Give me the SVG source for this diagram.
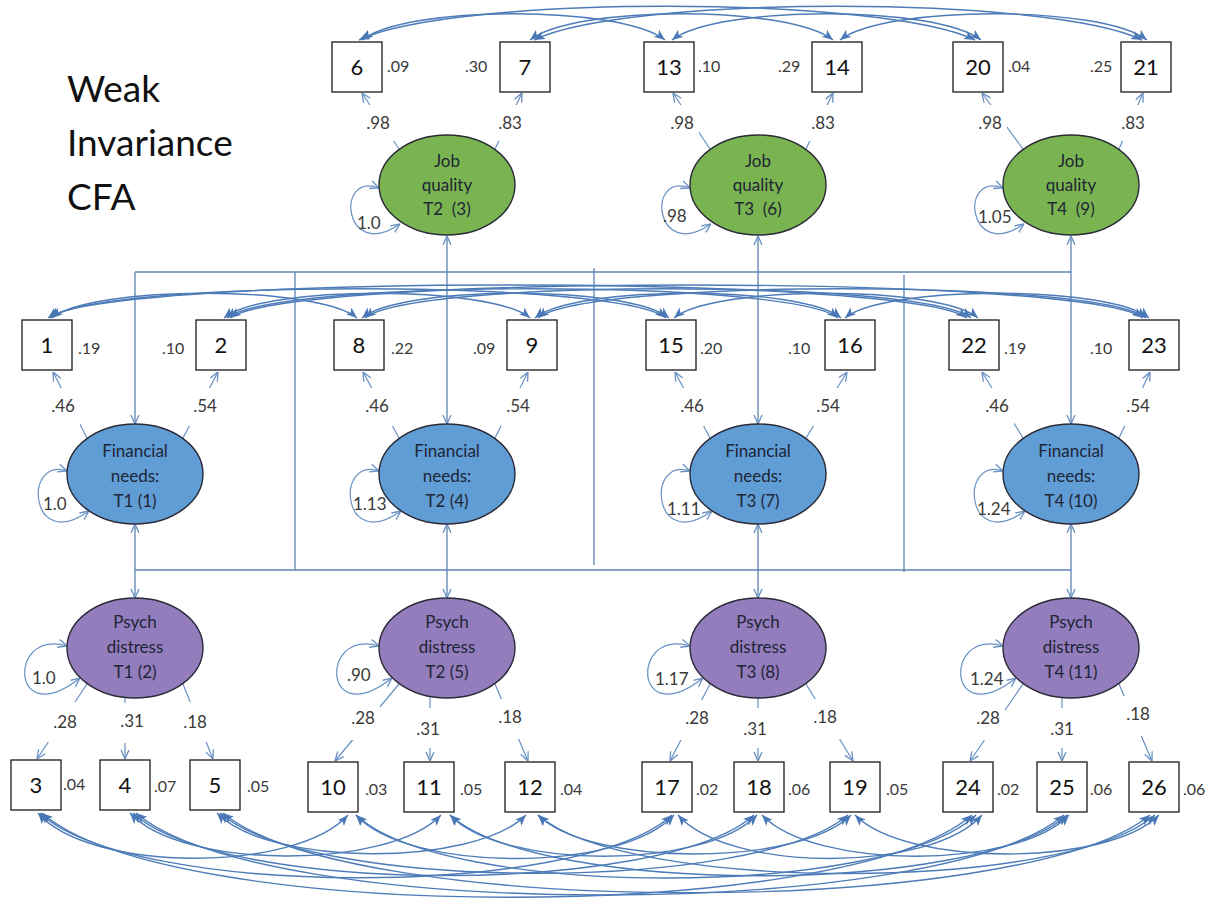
<svg xmlns="http://www.w3.org/2000/svg" width="1217" height="905" viewBox="0 0 1217 905">
<style>
  text { font-family: Lato, "Open Sans", "Liberation Sans", sans-serif; }
  .box { fill: #ffffff; stroke: #1a1a1a; stroke-width: 1.3; }
  .num { font-size: 22px; fill: #111111; text-anchor: middle; }
  .res { font-size: 16px; fill: #3a3a3a; }
  .lbl { font-size: 17px; fill: #3a3a3a; text-anchor: middle; }
  .var { font-size: 17px; fill: #3a3a3a; }
  .lat { stroke: #2a2a38; stroke-width: 1.4; }
  .job { fill: #7ab450; }
  .fin { fill: #609dd5; }
  .psy { fill: #937dbd; }
  .ltx { font-size: 17px; fill: #1e2535; text-anchor: middle; }
  .cov { fill: none; stroke: #4d7cb8; stroke-width: 1.4; }
  .ld  { fill: none; stroke: #6890c2; stroke-width: 1.2; }
  .st  { fill: none; stroke: #5f84b5; stroke-width: 1.3; }
  .bg  { fill: #ffffff; }
  .title { font-size: 37px; fill: #111111; }
</style>
<defs>
  <marker id="ah" viewBox="0 0 10 10" refX="10" refY="5" markerWidth="10" markerHeight="10" markerUnits="userSpaceOnUse" orient="auto-start-reverse">
    <path d="M1,1 L10,5 L1,9" fill="none" stroke="#6890c2" stroke-width="1.3"/>
  </marker>
  <marker id="fh" viewBox="0 0 10 8" refX="10" refY="4" markerWidth="11" markerHeight="9" markerUnits="userSpaceOnUse" orient="auto-start-reverse">
    <path d="M0,0 L10,4 L0,8 L2.5,4 z" fill="#4a78b6"/>
  </marker>
</defs>

<rect width="1217" height="905" fill="#ffffff"/>

<!-- title -->
<g id="title">
  <text class="title" x="67" y="102">Weak</text>
  <text class="title" x="67" y="156">Invariance</text>
  <text class="title" x="67" y="210">CFA</text>
</g>

<!-- connectors: structural paths, loadings, variances, covariances -->
<g id="connectors">
  <!-- latent covariance frame -->
  <path class="st" d="M135,272 H1071"/>
  <path class="st" d="M135,570 H1071"/>
  <path class="st" d="M295,272 V570"/>
  <path class="st" d="M594,268 V565"/>
  <path class="st" d="M904,275 V572"/>
  <path class="st" d="M135,272 V424" marker-end="url(#ah)"/>
  <path class="st" d="M447,236 V424" marker-start="url(#ah)" marker-end="url(#ah)"/>
  <path class="st" d="M758,236 V424" marker-start="url(#ah)" marker-end="url(#ah)"/>
  <path class="st" d="M1071,236 V424" marker-start="url(#ah)" marker-end="url(#ah)"/>
  <path class="st" d="M135,524 V598" marker-start="url(#ah)" marker-end="url(#ah)"/>
  <path class="st" d="M447,524 V598" marker-start="url(#ah)" marker-end="url(#ah)"/>
  <path class="st" d="M758,524 V598" marker-start="url(#ah)" marker-end="url(#ah)"/>
  <path class="st" d="M1071,524 V598" marker-start="url(#ah)" marker-end="url(#ah)"/>

  <!-- loadings: job quality -->
  <g marker-end="url(#ah)">
    <path class="ld" d="M399,149 L362,93"/>
    <path class="ld" d="M495,149 L522,93"/>
    <path class="ld" d="M710,149 L673,93"/>
    <path class="ld" d="M806,149 L833,93"/>
    <path class="ld" d="M1023,149 L982,93"/>
    <path class="ld" d="M1119,149 L1143,93"/>
    <!-- loadings: financial needs -->
    <path class="ld" d="M87,438 L53,372"/>
    <path class="ld" d="M183,438 L218,372"/>
    <path class="ld" d="M399,438 L363,372"/>
    <path class="ld" d="M495,438 L528,372"/>
    <path class="ld" d="M710,438 L675,372"/>
    <path class="ld" d="M806,438 L847,372"/>
    <path class="ld" d="M1023,438 L982,372"/>
    <path class="ld" d="M1119,438 L1150,372"/>
    <!-- loadings: psych distress -->
    <path class="ld" d="M87,684 L37,759"/>
    <path class="ld" d="M125,697 L125,759"/>
    <path class="ld" d="M183,684 L213,759"/>
    <path class="ld" d="M399,684 L335,761"/>
    <path class="ld" d="M430,697 L430,761"/>
    <path class="ld" d="M495,684 L528,761"/>
    <path class="ld" d="M710,684 L670,761"/>
    <path class="ld" d="M758,698 L758,761"/>
    <path class="ld" d="M806,684 L853,761"/>
    <path class="ld" d="M1023,684 L970,761"/>
    <path class="ld" d="M1062,697 L1062,761"/>
    <path class="ld" d="M1119,684 L1152,761"/>
  </g>

  <!-- loading value plates -->
  <g class="bg">
    <rect x="361" y="105" width="34" height="36"/>
    <rect x="493" y="105" width="34" height="36"/>
    <rect x="665" y="105" width="34" height="36"/>
    <rect x="806" y="105" width="34" height="36"/>
    <rect x="973" y="105" width="34" height="36"/>
    <rect x="1116" y="105" width="34" height="36"/>
    <rect x="46" y="388" width="34" height="38"/>
    <rect x="188" y="388" width="34" height="38"/>
    <rect x="360" y="388" width="34" height="38"/>
    <rect x="501" y="388" width="34" height="38"/>
    <rect x="675" y="388" width="34" height="38"/>
    <rect x="811" y="388" width="34" height="38"/>
    <rect x="980" y="388" width="34" height="38"/>
    <rect x="1121" y="388" width="34" height="38"/>
    <rect x="48" y="702" width="34" height="40"/>
    <rect x="115" y="703" width="34" height="40"/>
    <rect x="178" y="702" width="34" height="40"/>
    <rect x="346" y="700" width="34" height="40"/>
    <rect x="411" y="708" width="34" height="40"/>
    <rect x="493" y="699" width="34" height="40"/>
    <rect x="680" y="700" width="34" height="40"/>
    <rect x="738" y="708" width="34" height="40"/>
    <rect x="808" y="699" width="34" height="40"/>
    <rect x="971" y="700" width="34" height="40"/>
    <rect x="1045" y="708" width="34" height="40"/>
    <rect x="1121" y="696" width="34" height="40"/>
  </g>
  <g>
    <text class="lbl" x="378" y="129">.98</text>
    <text class="lbl" x="510" y="129">.83</text>
    <text class="lbl" x="682" y="129">.98</text>
    <text class="lbl" x="823" y="129">.83</text>
    <text class="lbl" x="990" y="129">.98</text>
    <text class="lbl" x="1133" y="129">.83</text>
    <text class="lbl" x="63" y="412">.46</text>
    <text class="lbl" x="205" y="412">.54</text>
    <text class="lbl" x="377" y="412">.46</text>
    <text class="lbl" x="518" y="412">.54</text>
    <text class="lbl" x="692" y="412">.46</text>
    <text class="lbl" x="828" y="412">.54</text>
    <text class="lbl" x="997" y="412">.46</text>
    <text class="lbl" x="1138" y="412">.54</text>
    <text class="lbl" x="65" y="728">.28</text>
    <text class="lbl" x="132" y="727">.31</text>
    <text class="lbl" x="195" y="728">.18</text>
    <text class="lbl" x="363" y="724">.28</text>
    <text class="lbl" x="428" y="735">.31</text>
    <text class="lbl" x="510" y="723">.18</text>
    <text class="lbl" x="697" y="724">.28</text>
    <text class="lbl" x="755" y="735">.31</text>
    <text class="lbl" x="825" y="723">.18</text>
    <text class="lbl" x="988" y="724">.28</text>
    <text class="lbl" x="1062" y="735">.31</text>
    <text class="lbl" x="1138" y="720">.18</text>
  </g>

  <!-- factor variances -->
  <g marker-start="url(#ah)" marker-end="url(#ah)">
    <path class="ld" d="M379,188 C335,171 343,263 400,224"/>
    <path class="ld" d="M690,188 C646,171 654,263 711,224"/>
    <path class="ld" d="M1003,188 C959,171 967,263 1024,224"/>
    <path class="ld" d="M67,471 C23,456 29,554 89,511"/>
    <path class="ld" d="M379,471 C335,456 341,554 401,511"/>
    <path class="ld" d="M690,471 C646,456 652,554 712,511"/>
    <path class="ld" d="M1003,471 C959,456 965,554 1025,511"/>
    <path class="ld" d="M67,646 C7,628 10,733 80,678"/>
    <path class="ld" d="M379,646 C319,628 322,733 392,678"/>
    <path class="ld" d="M690,646 C630,628 633,733 703,678"/>
    <path class="ld" d="M1003,646 C943,628 946,733 1016,678"/>
  </g>
  <g>
    <text class="var" x="357" y="229">1.0</text>
    <text class="var" x="663" y="222">.98</text>
    <text class="var" x="978" y="223">1.05</text>
    <text class="var" x="43" y="510">1.0</text>
    <text class="var" x="353" y="510">1.13</text>
    <text class="var" x="667" y="515">1.11</text>
    <text class="var" x="977" y="515">1.24</text>
    <text class="var" x="32" y="684">1.0</text>
    <text class="var" x="347" y="681">.90</text>
    <text class="var" x="655" y="685">1.17</text>
    <text class="var" x="970" y="685">1.24</text>
  </g>

  <!-- residual covariances across waves -->
  <g marker-start="url(#fh)" marker-end="url(#fh)">
    <!-- job quality items -->
    <path class="cov" d="M362,40 C407,5 620,5 665,40"/>
    <path class="cov" d="M672,40 C718,5 935,5 981,40"/>
    <path class="cov" d="M359,40 C451,-5 883,-5 975,40"/>
    <path class="cov" d="M530,40 C575,5 788,5 833,40"/>
    <path class="cov" d="M840,40 C886,5 1101,5 1147,40"/>
    <path class="cov" d="M534,40 C625,-5 1051,-5 1142,40"/>
    <!-- financial needs items -->
    <path class="cov" d="M52,318 C91,285 318,285 357,318"/>
    <path class="cov" d="M50,318 C98,279 618,279 666,318"/>
    <path class="cov" d="M48,318 C106,274 909,274 967,318"/>
    <path class="cov" d="M362,318 C401,285 630,285 669,318"/>
    <path class="cov" d="M365,318 C413,279 923,279 971,318"/>
    <path class="cov" d="M674,318 C713,285 939,285 978,318"/>
    <path class="cov" d="M224,318 C263,285 491,285 530,318"/>
    <path class="cov" d="M227,318 C275,279 790,279 838,318"/>
    <path class="cov" d="M230,318 C288,274 1085,274 1143,318"/>
    <path class="cov" d="M535,318 C574,285 802,285 841,318"/>
    <path class="cov" d="M538,318 C586,279 1098,279 1146,318"/>
    <path class="cov" d="M845,318 C884,285 1110,285 1149,318"/>
    <!-- psych distress items -->
    <path class="cov" d="M38,813 C90,873 296,873 348,815"/>
    <path class="cov" d="M40,813 C131,899 581,899 672,815"/>
    <path class="cov" d="M42,813 C169,925 845,925 972,815"/>
    <path class="cov" d="M356,815 C409,873 621,873 674,815"/>
    <path class="cov" d="M356,815 C445,899 887,899 976,815"/>
    <path class="cov" d="M678,815 C729,873 931,873 982,815"/>
    <path class="cov" d="M130,813 C182,870 389,870 441,815"/>
    <path class="cov" d="M133,813 C223,896 664,896 754,815"/>
    <path class="cov" d="M136,813 C262,922 938,922 1064,815"/>
    <path class="cov" d="M450,815 C502,870 705,870 757,815"/>
    <path class="cov" d="M450,815 C539,896 978,896 1067,815"/>
    <path class="cov" d="M762,815 C814,870 1017,870 1069,815"/>
    <path class="cov" d="M217,813 C269,867 474,867 526,815"/>
    <path class="cov" d="M220,813 C310,893 758,893 848,815"/>
    <path class="cov" d="M223,813 C349,919 1024,919 1150,815"/>
    <path class="cov" d="M538,815 C590,867 799,867 851,815"/>
    <path class="cov" d="M538,815 C627,893 1066,893 1155,815"/>
    <path class="cov" d="M855,815 C906,867 1108,867 1159,815"/>
  </g>
</g>

<!-- latent factors -->
<g id="job-t2"><ellipse class="lat job" cx="447" cy="185" rx="68" ry="50"/><text class="ltx" x="447" y="167">Job</text><text class="ltx" x="447" y="191">quality</text><text class="ltx" x="447" y="215">T2&#160; (3)</text></g>
<g id="job-t3"><ellipse class="lat job" cx="758" cy="185" rx="68" ry="50"/><text class="ltx" x="758" y="167">Job</text><text class="ltx" x="758" y="191">quality</text><text class="ltx" x="758" y="215">T3&#160; (6)</text></g>
<g id="job-t4"><ellipse class="lat job" cx="1071" cy="185" rx="68" ry="50"/><text class="ltx" x="1071" y="167">Job</text><text class="ltx" x="1071" y="191">quality</text><text class="ltx" x="1071" y="215">T4&#160; (9)</text></g>

<g id="fin-t1"><ellipse class="lat fin" cx="135" cy="474" rx="68" ry="50"/><text class="ltx" x="135" y="457">Financial</text><text class="ltx" x="135" y="482">needs:</text><text class="ltx" x="135" y="507">T1 (1)</text></g>
<g id="fin-t2"><ellipse class="lat fin" cx="447" cy="474" rx="68" ry="50"/><text class="ltx" x="447" y="457">Financial</text><text class="ltx" x="447" y="482">needs:</text><text class="ltx" x="447" y="507">T2 (4)</text></g>
<g id="fin-t3"><ellipse class="lat fin" cx="758" cy="474" rx="68" ry="50"/><text class="ltx" x="758" y="457">Financial</text><text class="ltx" x="758" y="482">needs:</text><text class="ltx" x="758" y="507">T3 (7)</text></g>
<g id="fin-t4"><ellipse class="lat fin" cx="1071" cy="474" rx="68" ry="50"/><text class="ltx" x="1071" y="457">Financial</text><text class="ltx" x="1071" y="482">needs:</text><text class="ltx" x="1071" y="507">T4 (10)</text></g>

<g id="psy-t1"><ellipse class="lat psy" cx="135" cy="648" rx="68" ry="50"/><text class="ltx" x="135" y="628">Psych</text><text class="ltx" x="135" y="653">distress</text><text class="ltx" x="135" y="678">T1 (2)</text></g>
<g id="psy-t2"><ellipse class="lat psy" cx="447" cy="648" rx="68" ry="50"/><text class="ltx" x="447" y="628">Psych</text><text class="ltx" x="447" y="653">distress</text><text class="ltx" x="447" y="678">T2 (5)</text></g>
<g id="psy-t3"><ellipse class="lat psy" cx="758" cy="648" rx="68" ry="50"/><text class="ltx" x="758" y="628">Psych</text><text class="ltx" x="758" y="653">distress</text><text class="ltx" x="758" y="678">T3 (8)</text></g>
<g id="psy-t4"><ellipse class="lat psy" cx="1071" cy="648" rx="68" ry="50"/><text class="ltx" x="1071" y="628">Psych</text><text class="ltx" x="1071" y="653">distress</text><text class="ltx" x="1071" y="678">T4 (11)</text></g>

<!-- observed items: job quality -->
<g id="item-6"><rect class="box" x="332" y="42" width="50" height="50"/><text class="num" x="357" y="75">6</text><text class="res" x="387" y="72">.09</text></g>
<g id="item-7"><rect class="box" x="500" y="42" width="50" height="50"/><text class="num" x="525" y="75">7</text><text class="res" x="465" y="72">.30</text></g>
<g id="item-13"><rect class="box" x="644" y="42" width="50" height="50"/><text class="num" x="669" y="75">13</text><text class="res" x="698" y="72">.10</text></g>
<g id="item-14"><rect class="box" x="812" y="42" width="50" height="50"/><text class="num" x="837" y="75">14</text><text class="res" x="778" y="72">.29</text></g>
<g id="item-20"><rect class="box" x="953" y="42" width="50" height="50"/><text class="num" x="978" y="75">20</text><text class="res" x="1008" y="72">.04</text></g>
<g id="item-21"><rect class="box" x="1121" y="42" width="50" height="50"/><text class="num" x="1146" y="75">21</text><text class="res" x="1090" y="72">.25</text></g>

<!-- observed items: financial needs -->
<g id="item-1"><rect class="box" x="22" y="320" width="50" height="50"/><text class="num" x="47" y="353">1</text><text class="res" x="78" y="354">.19</text></g>
<g id="item-2"><rect class="box" x="196" y="320" width="50" height="50"/><text class="num" x="221" y="353">2</text><text class="res" x="162" y="354">.10</text></g>
<g id="item-8"><rect class="box" x="334" y="320" width="50" height="50"/><text class="num" x="359" y="353">8</text><text class="res" x="391" y="354">.22</text></g>
<g id="item-9"><rect class="box" x="507" y="320" width="50" height="50"/><text class="num" x="532" y="353">9</text><text class="res" x="473" y="354">.09</text></g>
<g id="item-15"><rect class="box" x="646" y="320" width="50" height="50"/><text class="num" x="671" y="353">15</text><text class="res" x="700" y="354">.20</text></g>
<g id="item-16"><rect class="box" x="825" y="320" width="50" height="50"/><text class="num" x="850" y="353">16</text><text class="res" x="788" y="354">.10</text></g>
<g id="item-22"><rect class="box" x="949" y="320" width="50" height="50"/><text class="num" x="974" y="353">22</text><text class="res" x="1004" y="354">.19</text></g>
<g id="item-23"><rect class="box" x="1129" y="320" width="50" height="50"/><text class="num" x="1154" y="353">23</text><text class="res" x="1090" y="354">.10</text></g>

<!-- observed items: psych distress -->
<g id="item-3"><rect class="box" x="11" y="760" width="50" height="50"/><text class="num" x="36" y="793">3</text><text class="res" x="63" y="790">.04</text></g>
<g id="item-4"><rect class="box" x="100" y="760" width="50" height="50"/><text class="num" x="125" y="793">4</text><text class="res" x="154" y="792">.07</text></g>
<g id="item-5"><rect class="box" x="190" y="760" width="50" height="50"/><text class="num" x="215" y="793">5</text><text class="res" x="247" y="792">.05</text></g>
<g id="item-10"><rect class="box" x="308" y="762" width="50" height="50"/><text class="num" x="333" y="795">10</text><text class="res" x="365" y="795">.03</text></g>
<g id="item-11"><rect class="box" x="404" y="762" width="50" height="50"/><text class="num" x="429" y="795">11</text><text class="res" x="460" y="795">.05</text></g>
<g id="item-12"><rect class="box" x="505" y="762" width="50" height="50"/><text class="num" x="530" y="795">12</text><text class="res" x="560" y="795">.04</text></g>
<g id="item-17"><rect class="box" x="642" y="762" width="50" height="50"/><text class="num" x="667" y="795">17</text><text class="res" x="696" y="795">.02</text></g>
<g id="item-18"><rect class="box" x="734" y="762" width="50" height="50"/><text class="num" x="759" y="795">18</text><text class="res" x="788" y="795">.06</text></g>
<g id="item-19"><rect class="box" x="830" y="762" width="50" height="50"/><text class="num" x="855" y="795">19</text><text class="res" x="886" y="795">.05</text></g>
<g id="item-24"><rect class="box" x="943" y="762" width="50" height="50"/><text class="num" x="968" y="795">24</text><text class="res" x="997" y="795">.02</text></g>
<g id="item-25"><rect class="box" x="1037" y="762" width="50" height="50"/><text class="num" x="1062" y="795">25</text><text class="res" x="1090" y="795">.06</text></g>
<g id="item-26"><rect class="box" x="1129" y="762" width="50" height="50"/><text class="num" x="1154" y="795">26</text><text class="res" x="1183" y="795">.06</text></g>
</svg>
